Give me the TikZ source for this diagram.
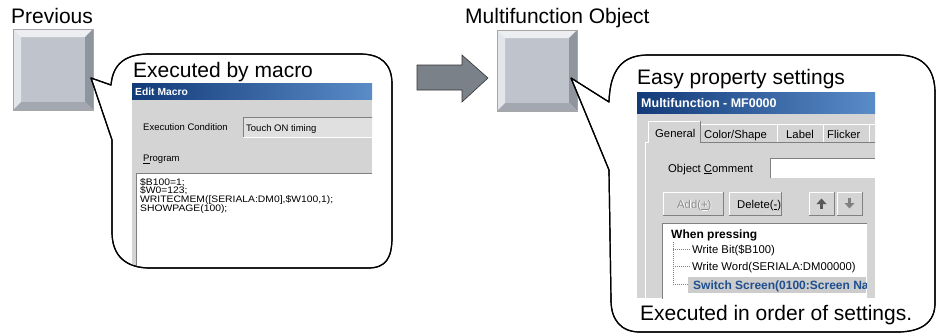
\documentclass[tikz,border=0pt]{standalone}
\usepackage{fontspec}
\setmainfont{Liberation Sans}
\definecolor{scrgray}{HTML}{D4D4D4}
\definecolor{darkedge}{HTML}{808080}
\definecolor{titleL}{HTML}{123A78}
\definecolor{titleR}{HTML}{5A8CC8}
\definecolor{btnface}{HTML}{BFC3CB}
\definecolor{btntop}{HTML}{ECEEF1}
\definecolor{btnleft}{HTML}{E2E5E9}
\definecolor{btnright}{HTML}{8E959D}
\definecolor{btnbottom}{HTML}{A3A8B0}
\definecolor{arrowfill}{HTML}{7B8189}
\definecolor{selblue}{HTML}{1F4F8F}
\tikzset{
  big/.style={font=\fontsize{21}{24}\selectfont, inner sep=0pt, anchor=base west},
  scrtxt/.style={font=\fontsize{9.5}{11}\selectfont, inner sep=0pt, anchor=base west},
  progtxt/.style={font=\fontsize{9.4}{11}\selectfont, inner sep=0pt, anchor=base west},
  rtxt/.style={font=\fontsize{11.3}{13}\selectfont, inner sep=0pt, anchor=base west},
  rbold/.style={font=\fontsize{12}{14}\selectfont\bfseries, inner sep=0pt, anchor=base west},
  titletxt/.style={inner sep=0pt, anchor=base west, text=white},
  bubble/.style={draw=black, line width=1.2pt, fill=white, line join=round},
  treeline/.style={draw=gray, dash pattern=on 1pt off 1pt, line width=0.6pt},
}
\newcommand{\bevelbutton}[2]{%
  \begin{scope}[shift={(#1,#2)}]
    \fill[btnface] (8,8) rectangle (72,73);
    \fill[btntop] (0,0) -- (80,0) -- (72,8) -- (8,8) -- cycle;
    \fill[btnleft] (0,0) -- (8,8) -- (8,73) -- (0,81) -- cycle;
    \fill[btnright] (80,0) -- (80,81) -- (72,73) -- (72,8) -- cycle;
    \fill[btnbottom] (0,81) -- (80,81) -- (72,73) -- (8,73) -- cycle;
    \draw[draw=gray!70, line width=0.5pt] (0,0) rectangle (80,81);
  \end{scope}}
\newcommand{\raisedbox}[4]{%
  \fill[scrgray] (#1,#2) rectangle (#3,#4);
  \draw[white, line width=0.8pt] (#1,#4) -- (#1,#2) -- (#3,#2);
  \draw[darkedge, line width=0.8pt] (#1,#4) -- (#3,#4) -- (#3,#2);}
\newcommand{\progline}[1]{\scalebox{1.1}[1]{#1}}
\begin{document}
\begin{tikzpicture}[x=1pt,y=-1pt]
\useasboundingbox (0,0) rectangle (937,335);
\fill[white] (0,0) rectangle (937,335);

% headings
\node[big] (prev) at (11,23) {Previous};
\node[big] (mfo) at (465,23) {Multifunction Object};

% buttons
\bevelbutton{13}{29}
\bevelbutton{497}{30}

% big arrow
\draw[fill=arrowfill, draw=black!80, line width=0.6pt, line join=miter]
  (417,65) -- (462,65) -- (462,55) -- (488,78) -- (462,102) -- (462,90) -- (417,90) -- cycle;

% ---------------- left bubble ----------------
\path[bubble] (111,85) .. controls (113,63) and (126,54) .. (150,54)
  -- (360,54) .. controls (381,54) and (392,64) .. (392,84)
  -- (392,237) .. controls (392,258) and (386,268) .. (368,268)
  -- (150,268) .. controls (126,268) and (112,256) .. (112,232)
  -- (112,140) -- (91,78) -- cycle;

\node[big] (lbl1) at (133,77) {Executed by macro};

\begin{scope}
  \clip (132,83) rectangle (372,265);
  \fill[scrgray] (132,83) rectangle (372,265);
  \shade[left color=titleL, right color=titleR] (132,83) rectangle (372,99);
  \node[titletxt, font=\fontsize{10.3}{12}\selectfont\bfseries] (edt) at (135,95) {Edit Macro};
  \node[scrtxt] (execc) at (143,130.5) {Execution Condition};
  \fill[fill=black!12] (243,117) rectangle (380,137);
  \draw[darkedge, line width=0.8pt] (243,137) -- (243,117) -- (380,117);
  \draw[white, line width=0.8pt] (243,137) -- (380,137);
  \node[scrtxt] (touch) at (246,131) {Touch ON timing};
  \node[scrtxt] (prog) at (143,161.5) {\underline{P}rogram};
  \fill[white] (136,173) rectangle (380,270);
  \draw[darkedge, line width=0.8pt] (136,270) -- (136,173) -- (380,173);
  \node[progtxt] (p1) at (140,185) {\progline{\$B100=1;}};
  \node[progtxt] (p2) at (140,193.8) {\progline{\$W0=123;}};
  \node[progtxt] (p3) at (140,202.6) {\progline{WRITECMEM([SERIALA:DM0],\$W100,1);}};
  \node[progtxt] (p4) at (140,211.4) {\progline{SHOWPAGE(100);}};
\end{scope}
\draw[line width=1.2pt, line join=round] (111,85) .. controls (113,63) and (126,54) .. (150,54)
  -- (360,54) .. controls (381,54) and (392,64) .. (392,84)
  -- (392,237) .. controls (392,258) and (386,268) .. (368,268)
  -- (150,268) .. controls (126,268) and (112,256) .. (112,232)
  -- (112,140) -- (91,78) -- cycle;

% ---------------- right bubble ----------------
\path[bubble] (609,102) .. controls (610,70) and (622,55) .. (648,55)
  -- (898,55) .. controls (924,55) and (935,70) .. (935,93)
  -- (935,303) .. controls (935,322) and (922,332) .. (897,332)
  -- (640,332) .. controls (621,332) and (611,320) .. (611,300)
  -- (609,170) -- (571,78) -- cycle;

\node[big] (lbl2) at (637,84) {Easy property settings};

\begin{scope}
  \clip (637,92) rectangle (875,298);
  \fill[scrgray] (637,92) rectangle (875,298);
  \shade[left color=titleL, right color=titleR] (637,92) rectangle (875,113);
  \node[titletxt, font=\fontsize{12.5}{14}\selectfont\bfseries] (mft) at (641,107) {Multifunction - MF0000};
  % tab page
  \draw[white, line width=0.8pt] (645,300) -- (645,142) -- (880,142);
  % tabs
  \raisedbox{700}{124}{777}{142}
  \raisedbox{777}{124}{823}{142}
  \raisedbox{823}{124}{869}{142}
  \raisedbox{869}{124}{890}{142}
  \fill[scrgray] (648,121) rectangle (700,143);
  \draw[white, line width=0.8pt] (648,143) -- (648,121) -- (700,121);
  \draw[darkedge, line width=0.8pt] (700,121) -- (700,142);
  \node[rtxt] (t1) at (655,137) {General};
  \node[rtxt] (t2) at (704,138) {Color/Shape};
  \node[rtxt] (t3) at (786,138) {Label};
  \node[rtxt] (t4) at (827,138) {Flicker};
  % comment
  \node[rtxt] (objc) at (668,172) {Object \underline{C}omment};
  \fill[white] (770,158) rectangle (880,178);
  \draw[darkedge, line width=0.8pt] (770,178) -- (770,158) -- (880,158);
  % buttons
  \raisedbox{663}{192}{723}{215}
  \raisedbox{729}{192}{781}{215}
  \raisedbox{809}{192}{834}{215}
  \raisedbox{837}{192}{862}{215}
  \node[rtxt, text=white] (addsh) at (677.8,208.8) {Add(\underline{+})};
  \node[rtxt, text=black!45] (add) at (677,208) {Add(\underline{+})};
  \node[rtxt] (del) at (737,208) {Delete(\underline{-})};
  \fill[black!65] (816.5,204) -- (826.5,204) -- (821.5,198.5) -- cycle;
  \fill[black!65] (820,204) rectangle (823,209);
  \fill[black!50] (844.5,203) -- (854.5,203) -- (849.5,208.5) -- cycle;
  \fill[black!50] (848,198) rectangle (851,203);
  % tree
  \fill[white] (662,223) rectangle (867,310);
  \draw[darkedge, line width=0.8pt] (662,310) -- (662,223) -- (867,223);
  \node[rbold] (wp) at (671,238) {When pressing};
  \draw[treeline] (673,242) -- (673,284);
  \draw[treeline] (673,249) -- (690,249);
  \draw[treeline] (673,266.5) -- (690,266.5);
  \draw[treeline] (673,284) -- (688,284);
  \node[rtxt] (wb) at (692,253) {Write Bit(\$B100)};
  \node[rtxt] (ww) at (692,270.5) {Write Word(SERIALA:DM00000)};
  \fill[black!20] (688,277) rectangle (866,293);
  \begin{scope}
    \clip (688,277) rectangle (866,293);
    \node[rbold, text=selblue] (sw) at (693,289) {Switch Screen(0100:Screen Name)};
  \end{scope}
\end{scope}
\draw[line width=1.2pt, line join=round] (609,102) .. controls (610,70) and (622,55) .. (648,55)
  -- (898,55) .. controls (924,55) and (935,70) .. (935,93)
  -- (935,303) .. controls (935,322) and (922,332) .. (897,332)
  -- (640,332) .. controls (621,332) and (611,320) .. (611,300)
  -- (609,170) -- (571,78) -- cycle;

\node[big] (lbl3) at (640,320) {Executed in order of settings.};
\end{tikzpicture}
\end{document}
